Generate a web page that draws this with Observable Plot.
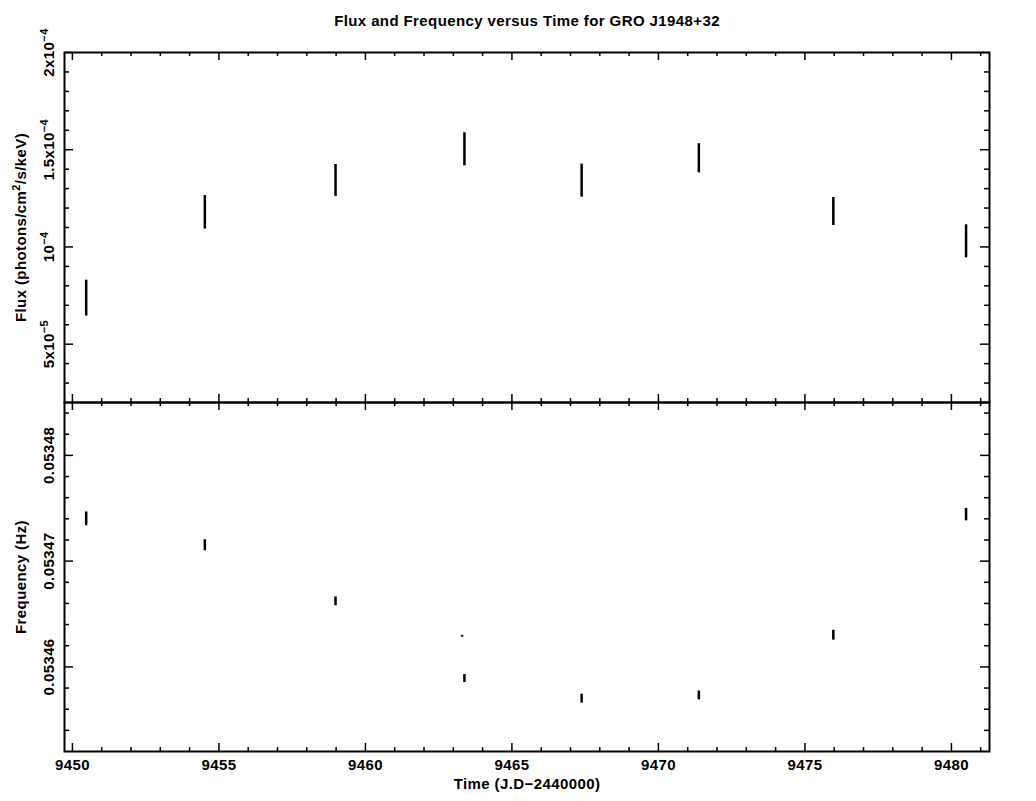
<!DOCTYPE html>
<html>
<head>
<meta charset="utf-8">
<script src="https://cdn.jsdelivr.net/npm/d3@7"></script>
<script src="https://cdn.jsdelivr.net/npm/@observablehq/plot@0.6"></script>
<style>
  body { margin: 0; background: #fff; }
  #wrap { position: relative; width: 1036px; height: 801px; }
  #top { position: absolute; left: 0; top: 0; }
  #bot { position: absolute; left: 0; top: 402px; }
  #wrap svg text { font-family: "Liberation Sans", Arial, sans-serif; font-size: 15px; font-weight: bold; letter-spacing: 0.4px; fill: #000; }
</style>
</head>
<body>
<div id="wrap"><div id="top"></div><div id="bot"></div></div>
<script>
// ---- data ----
const title = "Flux and Frequency versus Time for GRO J1948+32";
const xLabel = "Time (J.D\u22122440000)";
const fluxLabel = "Flux (photons/cm\u00b2/s/keV)";
const freqLabel = "Frequency (Hz)";

const time    = [9450.47, 9454.52, 9458.98, 9463.38, 9467.38, 9471.38, 9475.97, 9480.50];
const flux    = [7.37e-5, 1.178e-4, 1.342e-4, 1.502e-4, 1.341e-4, 1.456e-4, 1.182e-4, 1.029e-4];
const fluxErr = [0.92e-5, 0.86e-5, 0.82e-5, 0.85e-5, 0.85e-5, 0.75e-5, 0.72e-5, 0.85e-5];

const freqTime = [9450.47, 9454.52, 9458.98, 9463.30, 9463.38, 9467.38, 9471.38, 9475.97, 9480.50];
const freq     = [0.0534740, 0.0534715, 0.0534662, 0.0534629, 0.0534589, 0.0534570, 0.0534573, 0.0534630, 0.0534744];
const freqErr  = [0.65e-6, 0.52e-6, 0.42e-6, 0.08e-6, 0.38e-6, 0.42e-6, 0.42e-6, 0.47e-6, 0.59e-6];

const timeMajor = [9450, 9455, 9460, 9465, 9470, 9475, 9480];
const timeMinor = [9451, 9452, 9453, 9454, 9456, 9457, 9458, 9459, 9461, 9462, 9463, 9464,
                   9466, 9467, 9468, 9469, 9471, 9472, 9473, 9474, 9476, 9477, 9478, 9479, 9481];
const fluxMajor  = [5e-5, 1e-4, 1.5e-4, 2e-4];
const fluxTickLabels = ["5x10\u207b\u2075", "10\u207b\u2074", "1.5x10\u207b\u2074", "2x10\u207b\u2074"];
const fluxMinor  = [3e-5, 4e-5, 6e-5, 7e-5, 8e-5, 9e-5, 1.1e-4, 1.2e-4, 1.3e-4, 1.4e-4,
                    1.6e-4, 1.7e-4, 1.8e-4, 1.9e-4];
const freqMajor  = [0.05346, 0.05347, 0.05348];
const freqTickLabels = ["0.05346", "0.05347", "0.05348"];
const freqMinor  = [0.053454, 0.053456, 0.053458, 0.053462, 0.053464, 0.053466, 0.053468,
                    0.053472, 0.053474, 0.053476, 0.053478, 0.053482, 0.053484];

// ---- scale domains ----
const xDomain = [9449.73, 9481.3];
const fluxDomain = [2e-5, 2e-4];
const freqDomain = [0.053452, 0.053485];

// ---- layout ----
const W = 1036, mL = 64, mR = 47;
const plotW = W - mL - mR;
const topH = 402, topMT = 52, topMB = 0;
const botH = 399, botMT = 0, botMB = 50;
const topPH = topH - topMT - topMB;
const botPH = botH - botMT - botMB;
const MAJ = 9, MIN = 5;

const fluxRows = time.map((t, i) => ({t, lo: flux[i] - fluxErr[i], hi: flux[i] + fluxErr[i]}));
const freqRows = freqTime.map((t, i) => ({t, lo: freq[i] - freqErr[i], hi: freq[i] + freqErr[i]}));

function tickMarks(yMaj, yMin, ph) {
  return [
    Plot.ruleY(yMaj, {y: d => d, insetRight: plotW - MAJ, strokeWidth: 1.5}),
    Plot.ruleY(yMaj, {y: d => d, insetLeft: plotW - MAJ, strokeWidth: 1.5}),
    Plot.ruleY(yMin, {y: d => d, insetRight: plotW - MIN, strokeWidth: 1.5}),
    Plot.ruleY(yMin, {y: d => d, insetLeft: plotW - MIN, strokeWidth: 1.5}),
    Plot.ruleX(timeMajor, {x: d => d, insetTop: ph - 8, strokeWidth: 1.5}),
    Plot.ruleX(timeMajor, {x: d => d, insetBottom: ph - 8, strokeWidth: 1.5}),
    Plot.ruleX(timeMinor, {x: d => d, insetTop: ph - 4, strokeWidth: 1.5}),
    Plot.ruleX(timeMinor, {x: d => d, insetBottom: ph - 4, strokeWidth: 1.5})
  ];
}

const yLabelOpts = {frameAnchor: "left", textAnchor: "middle", lineAnchor: "middle", rotate: -90};

const topPlot = Plot.plot({
  width: W, height: topH,
  marginTop: topMT, marginBottom: topMB, marginLeft: mL, marginRight: mR,
  x: {domain: xDomain, axis: null},
  y: {domain: fluxDomain, axis: null},
  style: {background: "transparent", overflow: "visible"},
  marks: [
    ...tickMarks(fluxMajor, fluxMinor, topPH),
    Plot.frame({stroke: "black", strokeWidth: 2}),
    Plot.ruleX(fluxRows, {x: "t", y1: "lo", y2: "hi", stroke: "black", strokeWidth: 2.5}),
    Plot.text(fluxMajor, {y: d => d, text: (d, i) => fluxTickLabels[i], dx: -15, ...yLabelOpts}),
    Plot.text([fluxLabel], {text: d => d, dx: -43, ...yLabelOpts}),
    Plot.text([title], {text: d => d, frameAnchor: "top", lineAnchor: "middle", dy: -31})
  ]
});
document.getElementById("top").append(topPlot);

const botPlot = Plot.plot({
  width: W, height: botH,
  marginTop: botMT, marginBottom: botMB, marginLeft: mL, marginRight: mR,
  x: {domain: xDomain, axis: null},
  y: {domain: freqDomain, axis: null},
  style: {background: "transparent", overflow: "visible"},
  marks: [
    ...tickMarks(freqMajor, freqMinor, botPH),
    Plot.frame({stroke: "black", strokeWidth: 2}),
    Plot.ruleX(freqRows, {x: "t", y1: "lo", y2: "hi", stroke: "black", strokeWidth: 2.5}),
    Plot.text(freqMajor, {y: d => d, text: (d, i) => freqTickLabels[i], dx: -15, ...yLabelOpts}),
    Plot.text([freqLabel], {text: d => d, dx: -43, ...yLabelOpts}),
    Plot.text(timeMajor, {x: d => d, text: d => String(d), frameAnchor: "bottom", lineAnchor: "middle", dy: 14}),
    Plot.text([xLabel], {text: d => d, frameAnchor: "bottom", lineAnchor: "middle", dy: 33})
  ]
});
document.getElementById("bot").append(botPlot);

// render Unicode superscripts as real raised text runs
const SUP = {"\u207b": "\u2212", "\u2070": "0", "\u00b9": "1", "\u00b2": "2", "\u00b3": "3",
             "\u2074": "4", "\u2075": "5", "\u2076": "6", "\u2077": "7", "\u2078": "8", "\u2079": "9"};
const supRe = /[\u207b\u2070\u00b9\u00b2\u00b3\u2074-\u2079]+|[^\u207b\u2070\u00b9\u00b2\u00b3\u2074-\u2079]+/g;
document.querySelectorAll("#wrap svg text").forEach(t => {
  if (t.querySelector("tspan")) return;
  const s = t.textContent;
  if (!/[\u207b\u2070\u00b9\u00b2\u00b3\u2074-\u2079]/.test(s)) return;
  t.textContent = "";
  let raised = false;
  for (const run of s.match(supRe)) {
    const ts = document.createElementNS("http://www.w3.org/2000/svg", "tspan");
    const isSup = SUP[run[0]] !== undefined;
    if (isSup) {
      ts.textContent = [...run].map(c => SUP[c]).join("");
      ts.setAttribute("dy", "-6");
      ts.style.fontSize = "11px";
      raised = true;
    } else {
      ts.textContent = run;
      if (raised) { ts.setAttribute("dy", "6"); raised = false; }
    }
    t.appendChild(ts);
  }
});
</script>
</body>
</html>
